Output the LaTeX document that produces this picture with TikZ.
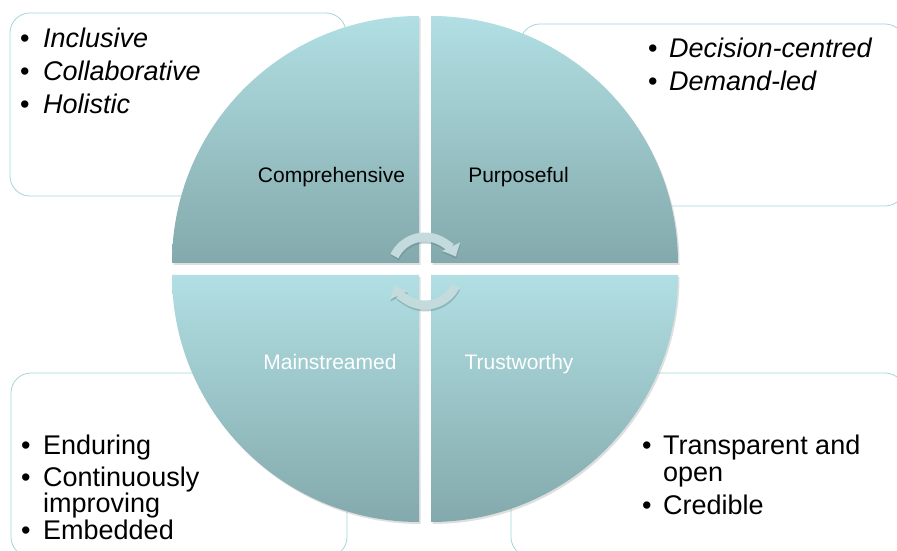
\documentclass[tikz,border=0pt]{standalone}
\usepackage{fontspec}
\setmainfont{Liberation Sans}
\usetikzlibrary{shadows,arrows.meta}
\definecolor{qtop}{HTML}{B1DFE3}
\definecolor{qbot}{HTML}{83A9AC}
\definecolor{boxline}{HTML}{A6D6DA}
\definecolor{arrc}{HTML}{C4DBDD}
\definecolor{arrsh}{HTML}{5F8487}
\begin{document}
\begin{tikzpicture}[x=1pt,y=1pt,
  infobox/.style={draw=boxline, line width=0.8pt, fill=white, rounded corners=20pt},
  quad/.style={top color=qtop, bottom color=qbot, draw=none,
    drop shadow={opacity=0.25, shadow xshift=1.5pt, shadow yshift=-2pt}},
  bul/.style={anchor=base west, inner sep=0pt, font=\fontsize{27}{30}\selectfont},
  ibul/.style={anchor=base west, inner sep=0pt, font=\fontsize{27}{30}\selectfont\itshape},
  qlabel/.style={anchor=base, inner sep=0pt, font=\fontsize{21}{24}\selectfont},
  cyc/.style={line width=9pt, color=arrc, -{Triangle[width=19pt,length=11pt]}},
  cycsh/.style={line width=9pt, color=arrsh, opacity=0.4, -{Triangle[width=19pt,length=11pt]}}
]
\useasboundingbox (0,0) rectangle (897,551);
\clip (0,0) rectangle (897,551);

% side boxes
\draw[infobox] (10,355) rectangle (346,538);
\draw[infobox] (520,345) rectangle (905,527);
\draw[infobox] (11,-6) rectangle (347,178);
\draw[infobox] (511,-6) rectangle (905,178);

% quadrants
\path[quad] (419,288) -- (172,288) arc[start angle=180,end angle=90,radius=247] -- cycle;
\path[quad] (431,288) -- (431,535) arc[start angle=90,end angle=0,radius=247] -- cycle;
\path[quad] (419,276) -- (172,276) arc[start angle=180,end angle=270,radius=247] -- cycle;
\path[quad] (431,276) -- (678,276) arc[start angle=0,end angle=-90,radius=247] -- cycle;

% quadrant labels
\node[qlabel] (comp) at (331.5,368) {Comprehensive};
\node[qlabel] (purp) at (518.5,368) {Purposeful};
\node[qlabel, text=white] (mains) at (330,181) {Mainstreamed};
\node[qlabel, text=white] (trust) at (519,181) {Trustworthy};

% cycle arrows
\coordinate (cc) at (425,280);
\coordinate (ccs) at (425.5,278);
\draw[cycsh] ([shift={(154:34)}]ccs) arc[start angle=154,end angle=25,radius=34];
\draw[cycsh] ([shift={(-26:34)}]ccs) arc[start angle=-26,end angle=-155,radius=34];
\draw[cyc] ([shift={(154:34)}]cc) arc[start angle=154,end angle=25,radius=34];
\draw[cyc] ([shift={(-26:34)}]cc) arc[start angle=-26,end angle=-155,radius=34];

% top-left list
\node[bul] (tlb1) at (20,503) {•};
\node[ibul] (tl1) at (43,503) {Inclusive};
\node[bul] (tlb2) at (20,470) {•};
\node[ibul] (tl2) at (43,470) {Collaborative};
\node[bul] (tlb3) at (20,437) {•};
\node[ibul] (tl3) at (43,437) {Holistic};

% top-right list
\node[bul] (trb1) at (648,493) {•};
\node[ibul] (tr1) at (669,493) {Decision-centred};
\node[bul] (trb2) at (648,460) {•};
\node[ibul] (tr2) at (669,460) {Demand-led};

% bottom-left list
\node[bul] (blb1) at (21,96) {•};
\node[bul] (bl1) at (43,96) {Enduring};
\node[bul] (blb2) at (21,64) {•};
\node[bul] (bl2) at (43,64) {Continuously};
\node[bul] (bl3) at (43,38) {improving};
\node[bul] (blb4) at (21,11) {•};
\node[bul] (bl4) at (43,11) {Embedded};

% bottom-right list
\node[bul] (brb1) at (642,96) {•};
\node[bul] (br1) at (663,96) {Transparent and};
\node[bul] (br2) at (663,69) {open};
\node[bul] (brb3) at (642,36) {•};
\node[bul] (br3) at (663,36) {Credible};
\end{tikzpicture}
\end{document}
